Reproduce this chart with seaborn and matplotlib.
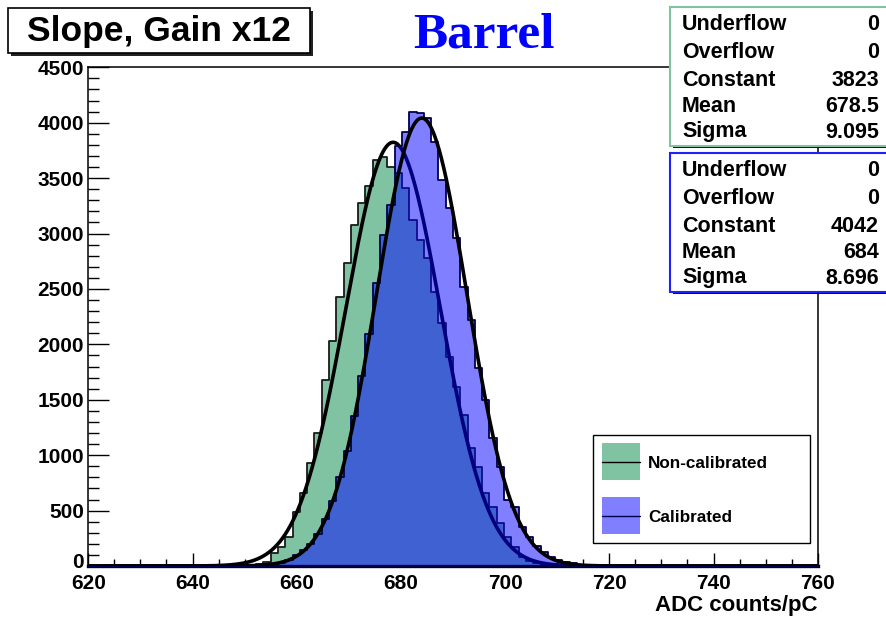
import numpy as np
import pandas as pd
import matplotlib
matplotlib.use("Agg")
import matplotlib.pyplot as plt
import seaborn as sns
from matplotlib.patches import Rectangle
from matplotlib.lines import Line2D
from matplotlib.ticker import MultipleLocator, FixedLocator
from matplotlib.transforms import ScaledTranslation

# ---------------- data ----------------
x_min, x_max, bin_width = 620, 760, 1.4

noncal_first_bin = 20
noncal_counts = [3, 6, 12, 22, 40, 114, 175, 265, 490, 656, 932, 1198, 1679, 2034,
                 2431, 2738, 3075, 3279, 3430, 3664, 3694, 3604, 3550, 3409, 3123,
                 2942, 2777, 2476, 2190, 1889, 1618, 1363, 1062, 896, 656, 535, 385,
                 265, 174, 84, 45, 25, 12, 6, 3]

cal_first_bin = 24
cal_counts = [5, 15, 30, 55, 95, 140, 200, 290, 420, 590, 800, 1040, 1350, 1715,
              2091, 2551, 2987, 3258, 3793, 3920, 4100, 4085, 4040, 3830, 3484, 3228,
              2957, 2521, 2220, 1784, 1498, 1152, 896, 596, 535, 355, 265, 180, 129,
              84, 54, 39, 24, 12, 6, 3]

# fit results shown in the stat boxes
noncal_stats = {"Underflow": "0", "Overflow": "0", "Constant": "3823", "Mean": "678.5", "Sigma": "9.095"}
cal_stats = {"Underflow": "0", "Overflow": "0", "Constant": "4042", "Mean": "684", "Sigma": "8.696"}
noncal_fit = (3823, 678.5, 9.095)
cal_fit = (4042, 684.0, 8.696)

y_ticks = [0, 500, 1000, 1500, 2000, 2500, 3000, 3500, 4000, 4500]
series_labels = ["Non-calibrated", "Calibrated"]
title = "Slope, Gain x12"
subtitle = "Barrel"
x_title = "ADC counts/pC"

# ---------------- style ----------------
sns.set_theme(style="ticks")
plt.rcParams["font.family"] = ["Liberation Sans", "DejaVu Sans"]
plt.rcParams["font.weight"] = "bold"

GREEN = "#80c3a3"
BLUE_FILL = (0.0, 0.0, 1.0, 0.5)

W, H = 887, 618
fig = plt.figure(figsize=(W / 100, H / 100), dpi=100)
fig.patch.set_facecolor("white")


def fx(x):
    return x / W


def fy(y):
    return 1 - y / H


def frect(x0, y0, x1, y1, **kw):
    r = Rectangle((fx(x0), fy(y1)), (x1 - x0) / W, (y1 - y0) / H,
                  transform=fig.transFigure, **kw)
    fig.add_artist(r)
    return r


ax_l, ax_r, ax_t, ax_b = 88.3, 817.7, 67.3, 566
ax = fig.add_axes([fx(ax_l), fy(ax_b), (ax_r - ax_l) / W, (ax_b - ax_t) / H])
ax.set_facecolor("white")

n_bins = int(round((x_max - x_min) / bin_width))
edges = [float(e) for e in x_min + bin_width * np.arange(n_bins + 1)]


def hist_frame(first, counts):
    idx = first + np.arange(len(counts))
    return pd.DataFrame({"adc": x_min + bin_width * (idx + 0.5), "n": counts})


def gauss_frame(params):
    c, m, s = params
    xs = np.linspace(x_min, x_max, 1400)
    return pd.DataFrame({"adc": xs, "f": c * np.exp(-0.5 * ((xs - m) / s) ** 2)})


# non-calibrated histogram + fit
sns.histplot(data=hist_frame(noncal_first_bin, noncal_counts), x="adc", weights="n",
             bins=edges, element="step", fill=True, color=GREEN, alpha=1.0,
             edgecolor="#1a1a1a", linewidth=1.3, ax=ax, zorder=2)
sns.lineplot(data=gauss_frame(noncal_fit), x="adc", y="f", color="black",
             linewidth=2.6, ax=ax, zorder=3, sort=False, estimator=None)

# calibrated histogram + fit
sns.histplot(data=hist_frame(cal_first_bin, cal_counts), x="adc", weights="n",
             bins=edges, element="step", fill=True, color="blue", alpha=0.5,
             edgecolor="#000050", linewidth=1.3, ax=ax, zorder=4)
sns.lineplot(data=gauss_frame(cal_fit), x="adc", y="f", color="black",
             linewidth=2.6, ax=ax, zorder=5, sort=False, estimator=None)

ax.set_xlim(x_min, x_max)
ax.set_ylim(y_ticks[0], y_ticks[-1])
ax.set_xlabel("")
ax.set_ylabel("")

ax.xaxis.set_major_locator(MultipleLocator(20))
ax.xaxis.set_minor_locator(MultipleLocator(5))
ax.yaxis.set_major_locator(FixedLocator(y_ticks))
ax.yaxis.set_minor_locator(MultipleLocator(100))
ax.tick_params(axis="x", which="major", direction="in", length=9.5, width=1.0,
               labelsize=15, pad=6, color="black", labelcolor="black")
ax.tick_params(axis="x", which="minor", direction="in", length=5, width=1.0, color="black")
ax.tick_params(axis="y", which="major", direction="in", length=15, width=1.0,
               labelsize=15, pad=3, color="black", labelcolor="black")
ax.tick_params(axis="y", which="minor", direction="in", length=8, width=1.0, color="black")
ax.tick_params(top=False, right=False, which="both")
for lbl in ax.get_xticklabels() + ax.get_yticklabels():
    lbl.set_fontweight("bold")
for side, lw in (("left", 1.1), ("right", 1.1), ("top", 1.1), ("bottom", 2.4)):
    ax.spines[side].set_visible(True)
    ax.spines[side].set_color("black")
    ax.spines[side].set_linewidth(lw)

# lift the "0" label a touch so it does not collide with "620"
zero_tick = ax.yaxis.get_major_ticks()[0]
zero_tick.label1.set_transform(zero_tick.label1.get_transform()
                               + ScaledTranslation(0, 4 / 72, fig.dpi_scale_trans))

# x axis title
fig.text(fx(818), fy(605), x_title, ha="right", va="center", fontsize=16,
         fontweight="bold", color="black")

# title box
frect(11, 11, 313, 56, facecolor="#222222", edgecolor="none", zorder=10)
frect(8, 8, 310, 53, facecolor="white", edgecolor="black", linewidth=1.2, zorder=11)
fig.text(fx(159), fy(31), title, ha="center", va="center", fontsize=25.5,
         fontweight="bold", color="black", zorder=12)

# subtitle
fig.text(fx(484), fy(36), subtitle, ha="center", va="center", fontsize=37,
         fontweight="bold", color="#0000ff", family=["Liberation Serif", "DejaVu Serif"], zorder=12)

# stat boxes
def stat_box(y0, y1, stats, edge, rows):
    frect(673, y0 + 2, 900, y1 + 2, facecolor="#111111", edgecolor="none", zorder=10)
    frect(670, y0, 900, y1, facecolor="white", edgecolor=edge, linewidth=1.5, zorder=11)
    for (k, v), yy in zip(stats.items(), rows):
        fig.text(fx(682), fy(yy), k, ha="left", va="center", fontsize=15.5,
                 fontweight="bold", color="black", zorder=12)
        fig.text(fx(879), fy(yy), v, ha="right", va="center", fontsize=15.5,
                 fontweight="bold", color="black", zorder=12)


stat_box(7, 146, noncal_stats, GREEN, [25, 52, 80, 107, 132])
stat_box(153, 292, cal_stats, "#2020ff", [171, 198, 226, 253, 278])

# legend
frect(593, 435, 810, 543, facecolor="white", edgecolor="black", linewidth=1.0, zorder=10)
frect(602, 443, 640, 480, facecolor=GREEN, edgecolor="none", zorder=11)
frect(602, 497, 640, 534, facecolor=BLUE_FILL, edgecolor="none", zorder=11)
fig.add_artist(Line2D([fx(602), fx(640)], [fy(461.5), fy(461.5)], color="black",
                      linewidth=1.0, transform=fig.transFigure, zorder=12))
fig.add_artist(Line2D([fx(602), fx(640)], [fy(515.5), fy(515.5)], color="#000050",
                      linewidth=1.0, transform=fig.transFigure, zorder=12))
fig.text(fx(648), fy(463), series_labels[0], ha="left", va="center", fontsize=12.3,
         fontweight="bold", color="black", zorder=12)
fig.text(fx(648), fy(517), series_labels[1], ha="left", va="center", fontsize=12.3,
         fontweight="bold", color="black", zorder=12)

fig.savefig("out.png", dpi=100, facecolor="white")
